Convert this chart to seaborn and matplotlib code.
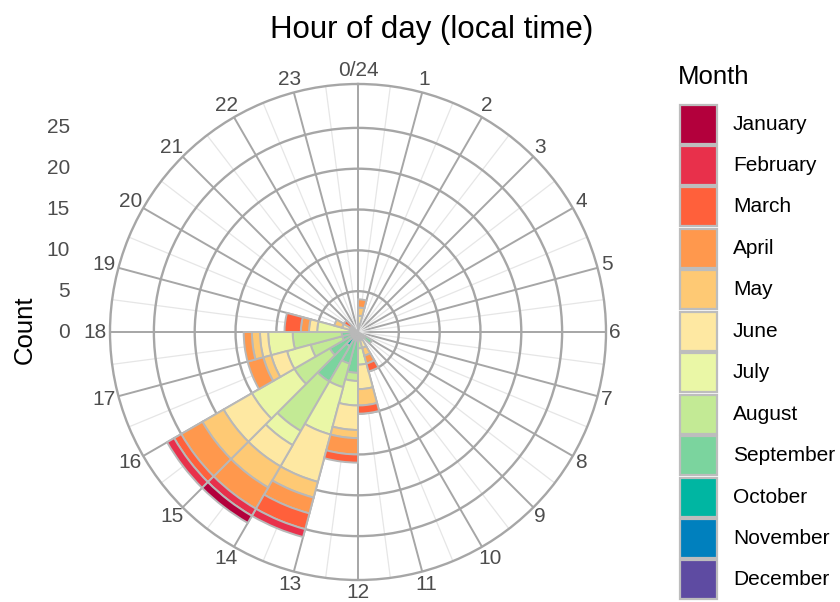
import numpy as np
import matplotlib
matplotlib.use("Agg")
import matplotlib.pyplot as plt
from matplotlib import transforms
from matplotlib.patches import Rectangle
import seaborn as sns

# ---- data: number of events per hour-of-day bin, split by month ----
hours = list(range(24))
hour_labels = ["0/24"] + [str(h) for h in range(1, 24)]
count_ticks = [0, 5, 10, 15, 20, 25]

months = ["January", "February", "March", "April", "May", "June", "July",
          "August", "September", "October", "November", "December"]
month_colors = ["#B3003C", "#E8304B", "#FF603B", "#FF984D", "#FEC974", "#FEE8A2",
                "#EAF7A6", "#C3EA95", "#7BD49E", "#00B6A2", "#0080BE", "#5E4BA2"]

#          0  1  2  3  4  5  6  7  8  9 10 11 12 13 14 15 16 17 18 19 20 21 22 23
jan = [0, 0, 0, 0, 0, 0, 0, 0, 0, 0, 0, 0, 0, 0, 1, 0, 0, 0, 0, 0, 0, 0, 0, 0]
feb = [0, 0, 0, 0, 0, 0, 0, 0, 0, 0, 0, 0, 0, 1, 1, 1, 0, 0, 0, 0, 0, 0, 0, 0]
mar = [0, 0, 0, 0, 0, 0, 0, 0, 0, 0, 1, 1, 1, 2, 0, 1, 0, 0, 2, 0, 1, 0, 0, 0]
apr = [1, 0, 0, 0, 0, 0, 0, 0, 0, 0, 1, 0, 2, 2, 3, 3, 2, 1, 1, 0, 0, 0, 0, 0]
may = [1, 0, 0, 0, 0, 0, 0, 0, 0, 0, 1, 2, 1, 2, 3, 3, 1, 1, 0, 1, 0, 0, 0, 0]
jun = [1, 0, 0, 0, 0, 0, 0, 0, 0, 0, 1, 3, 3, 6, 3, 4, 2, 1, 1, 1, 1, 0, 0, 0]
jul = [1, 0, 0, 0, 0, 0, 0, 0, 0, 0, 1, 2, 3, 6, 2, 6, 3, 3, 4, 1, 0, 0, 0, 0]
aug = [0, 0, 0, 0, 0, 0, 0, 0, 0, 0, 0, 2, 1, 3, 7, 5, 4, 6, 1, 0, 0, 0, 0, 0]
sep = [0, 0, 0, 0, 0, 0, 0, 0, 1, 0, 0, 0, 4, 3, 5, 4, 2, 2, 0, 0, 0, 0, 0, 0]
oct_ = [0, 0, 0, 0, 0, 0, 0, 0, 0, 0, 0, 0, 1, 1, 2, 0, 0, 0, 0, 0, 0, 0, 0, 0]
nov = [0, 0, 0, 0, 0, 0, 0, 0, 1, 0, 0, 0, 0, 0, 0, 0, 0, 0, 0, 0, 0, 0, 0, 0]
dec = [0, 0, 0, 0, 0, 0, 0, 0, 0, 0, 0, 0, 0, 0, 0, 0, 0, 0, 0, 0, 0, 0, 0, 0]
month_counts = [jan, feb, mar, apr, may, jun, jul, aug, sep, oct_, nov, dec]

# ---- style ----
sns.set_theme(style="white")
plt.rcParams["font.family"] = ["Liberation Sans", "DejaVu Sans"]
palette = sns.color_palette(month_colors)
grid_col = "#A6A6A6"
edge_col = "#B8B8B8"
text_col = "#4D4D4D"

W, H, DPI = 840, 602, 100
fig = plt.figure(figsize=(W / DPI, H / DPI), dpi=DPI)
fig.patch.set_facecolor("white")

# polar panel: centre and outer radius in pixels
cx, cy, R = 358, 332, 248
ax = fig.add_axes([(cx - R) / W, (H - cy - R) / H, 2 * R / W, 2 * R / H],
                  projection="polar")
ax.set_theta_zero_location("N")
ax.set_theta_direction(-1)

totals = np.sum(np.array(month_counts), axis=0)
rmax = totals.max() * 1.125
ax.set_ylim(0, rmax)

# stacked bars: December innermost, January outermost
theta = np.deg2rad(np.array(hours) * 15.0)
width = np.deg2rad(15.0)
bottom = np.zeros(24)
for name, col, vals in reversed(list(zip(months, palette, month_counts))):
    vals = np.array(vals, dtype=float)
    mask = vals > 0
    ax.bar(theta[mask], vals[mask], width=width, bottom=bottom[mask],
           align="edge", color=col, edgecolor=edge_col, linewidth=1.4,
           zorder=3, label=name)
    bottom += vals

# grid
ax.set_xticks(theta)
ax.set_xticks(np.deg2rad(np.arange(24) * 15.0 + 7.5), minor=True)
ax.set_xticklabels([])
ax.set_yticks(count_ticks[1:])
ax.set_yticklabels([])
ax.xaxis.grid(True, which="major", color=grid_col, linewidth=1.4)
ax.xaxis.grid(True, which="minor", color="#E6E6E6", linewidth=0.9)
ax.yaxis.grid(True, color=grid_col, linewidth=1.7)
ax.tick_params(axis="both", which="both", length=0)
ax.spines["polar"].set_color(grid_col)
ax.spines["polar"].set_linewidth(1.7)
ax.set_facecolor("white")
ax.set_axisbelow(True)

# hour labels around the circle
renderer = fig.canvas.get_renderer()
pad = 3.5
for h, lab in zip(hours, hour_labels):
    th = np.deg2rad(h * 15.0)
    t = ax.text(th, rmax, lab, ha="center", va="center", fontsize=15,
                color=text_col, clip_on=False)
    bb = t.get_window_extent(renderer)
    s, c = np.sin(th), np.cos(th)
    dx = (pad + bb.width / 2) * s
    dy = (pad + bb.height / 2) * c
    t.set_transform(transforms.offset_copy(ax.transData, fig=fig, x=dx, y=dy,
                                           units="dots"))

# radial (count) axis on the left
inv = fig.transFigure.inverted()
for v in count_ticks:
    _, ydisp = ax.transData.transform((0, v))
    _, yf = inv.transform((0, ydisp))
    fig.text(70 / W, yf, str(v), ha="right", va="center", fontsize=15,
             color=text_col)
fig.text(25 / W, 1 - 330 / H, "Count", rotation=90, ha="center", va="center",
         fontsize=18.5, color="black")

# title
fig.text(432 / W, 1 - 38 / H, "Hour of day (local time)", ha="center",
         va="baseline", fontsize=22.5, color="black")

# legend
lax = fig.add_axes([0, 0, 1, 1])
lax.set_xlim(0, W)
lax.set_ylim(H, 0)
lax.axis("off")
lax.text(678, 77, "Month", ha="left", va="center", fontsize=18.5, color="black")
pitch = 41.45
for i, (name, col) in enumerate(zip(months, palette)):
    top = 104.5 + i * pitch
    lax.add_patch(Rectangle((680, top), 37, 39, facecolor=col,
                            edgecolor="#BDBDBD", linewidth=1.6))
    lax.text(733, top + 19.5, name, ha="left", va="center", fontsize=15,
             color="black")

fig.savefig("out.png", dpi=DPI)
